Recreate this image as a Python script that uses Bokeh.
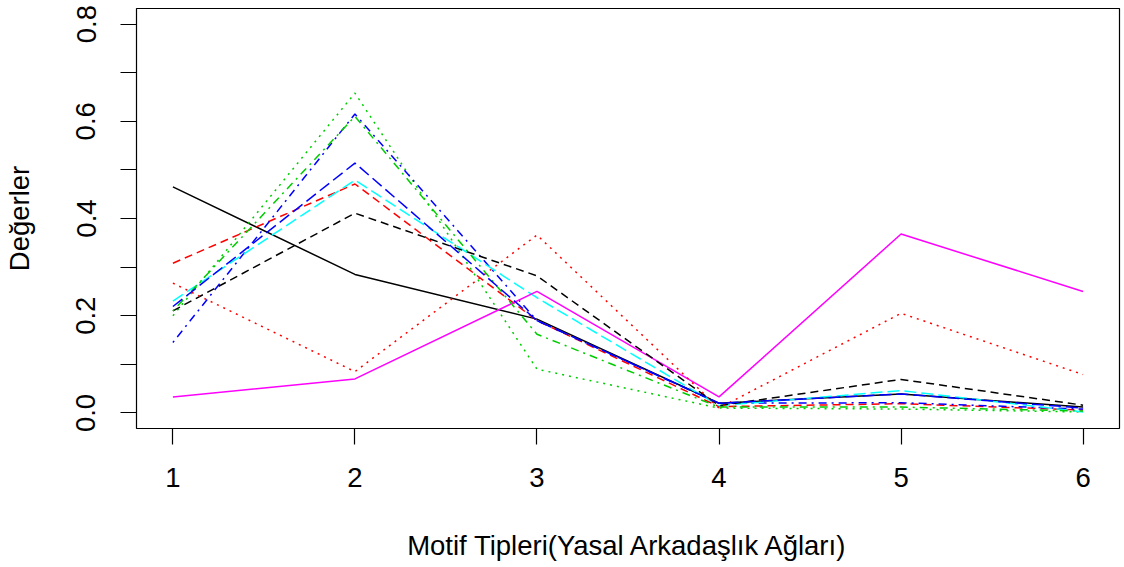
from bokeh.plotting import figure
from bokeh.models import FixedTicker, Range1d
from bokeh.embed import file_html
from bokeh.resources import INLINE

# Data
motif = [1, 2, 3, 4, 5, 6]
s1_black_solid = [0.465, 0.285, 0.193, 0.020, 0.039, 0.012]
s2_red_dashed = [0.308, 0.471, 0.190, 0.013, 0.019, 0.006]
s3_green_dotted = [0.200, 0.658, 0.090, 0.010, 0.008, 0.002]
s4_blue_dotdash = [0.145, 0.615, 0.190, 0.020, 0.021, 0.008]
s5_cyan_longdash = [0.230, 0.479, 0.237, 0.015, 0.046, 0.002]
s6_magenta_solid = [0.033, 0.070, 0.250, 0.033, 0.368, 0.250]
s7_black_dashed = [0.210, 0.411, 0.282, 0.015, 0.069, 0.016]
s8_red_dotted = [0.267, 0.085, 0.366, 0.010, 0.205, 0.079]
s9_green_dotdash = [0.210, 0.610, 0.162, 0.012, 0.012, 0.004]
s10_blue_longdash = [0.219, 0.514, 0.190, 0.020, 0.039, 0.010]

series = [s1_black_solid, s2_red_dashed, s3_green_dotted, s4_blue_dotdash,
          s5_cyan_longdash, s6_magenta_solid, s7_black_dashed, s8_red_dotted,
          s9_green_dotdash, s10_blue_longdash]
colors = ["#000000", "#FF0000", "#00CD00", "#0000FF", "#00FFFF", "#FF00FF"]
dashes = ["solid", "8 5", "2 5", "2 5 8 5", "12 5"]

x_ticks = [1, 2, 3, 4, 5, 6]
y_ticks = [0.0, 0.1, 0.2, 0.3, 0.4, 0.5, 0.6, 0.7, 0.8]
y_tick_labels = ["0.0", "", "0.2", "", "0.4", "", "0.6", "", "0.8"]

FONT = "Liberation Sans"
FS = "27.5px"

p = figure(width=1122, height=567, output_backend="svg", toolbar_location=None,
           min_border_left=136, min_border_right=3, min_border_top=8,
           min_border_bottom=139,
           x_range=Range1d(0.8, 6.2), y_range=Range1d(-0.032, 0.832))

for i, s in enumerate(series):
    p.line(motif, s, line_color=colors[i % 6], line_dash=dashes[i % 5],
           line_width=1.5)

p.grid.visible = False
p.outline_line_color = "#000000"
p.outline_line_width = 1.2
p.background_fill_color = "white"
p.border_fill_color = "white"

p.xaxis.ticker = FixedTicker(ticks=x_ticks)
p.yaxis.ticker = FixedTicker(ticks=y_ticks)
p.yaxis.major_label_overrides = {t: l for t, l in zip(y_ticks, y_tick_labels)}

for ax in (p.xaxis, p.yaxis):
    ax.axis_line_color = None
    ax.major_tick_in = 0
    ax.major_tick_out = 16
    ax.major_tick_line_color = "#000000"
    ax.major_tick_line_width = 1.2
    ax.minor_tick_line_color = None
    ax.major_label_text_font = FONT
    ax.major_label_text_font_size = FS
    ax.major_label_text_color = "#000000"
    ax.axis_label_text_font = FONT
    ax.axis_label_text_font_size = FS
    ax.axis_label_text_font_style = "normal"
    ax.axis_label_text_color = "#000000"

p.xaxis.axis_label = "Motif Tipleri(Yasal Arkadaşlık Ağları)"
p.yaxis.axis_label = "Değerler"
p.xaxis.major_label_standoff = 23
p.xaxis.axis_label_standoff = 40
p.yaxis.major_label_orientation = "vertical"
p.yaxis.major_label_standoff = 25
p.yaxis.axis_label_standoff = 39

open("out.html", "w").write(file_html(p, INLINE))
